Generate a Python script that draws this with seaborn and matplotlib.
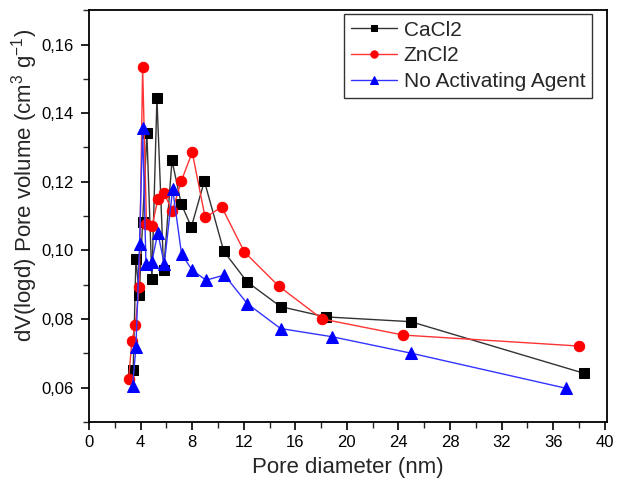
import numpy as np
import pandas as pd
import matplotlib
matplotlib.use('Agg')
import matplotlib.pyplot as plt
from matplotlib.ticker import FuncFormatter, MultipleLocator
import seaborn as sns

# --- data ---
cacl2_d = [3.42, 3.63, 3.89, 4.15, 4.48, 4.87, 5.26, 5.78, 6.43, 7.15, 7.93,
           8.94, 10.45, 12.26, 14.85, 18.35, 24.96, 38.36]
cacl2_v = [0.0652, 0.0976, 0.0870, 0.1083, 0.1341, 0.0915, 0.1443, 0.0942, 0.1262,
           0.1135, 0.1068, 0.1202, 0.0997, 0.0908, 0.0836, 0.0806, 0.0792, 0.0642]

zncl2_d = [3.06, 3.32, 3.58, 3.89, 4.15, 4.45, 4.90, 5.33, 5.83, 6.45, 7.15,
           8.00, 9.00, 10.29, 12.05, 14.70, 18.07, 24.37, 38.00]
zncl2_v = [0.0624, 0.0736, 0.0782, 0.0894, 0.1533, 0.1078, 0.1072, 0.1150, 0.1166,
           0.1114, 0.1202, 0.1286, 0.1096, 0.1126, 0.0995, 0.0896, 0.0800, 0.0753, 0.0721]

none_d = [3.37, 3.63, 3.91, 4.15, 4.41, 4.86, 5.33, 5.83, 6.48, 7.17, 8.00,
          9.07, 10.50, 12.26, 14.85, 18.87, 25.00, 36.99]
none_v = [0.0605, 0.0717, 0.1019, 0.1356, 0.0960, 0.0966, 0.1051, 0.0960, 0.1179,
          0.0989, 0.0942, 0.0913, 0.0928, 0.0845, 0.0772, 0.0748, 0.0700, 0.0598]

series = [
    ('CaCl2', cacl2_d, cacl2_v, '#000000', '#333333', 's', 7),
    ('ZnCl2', zncl2_d, zncl2_v, '#ff0000', '#ff3333', 'o', 7.5),
    ('No Activating Agent', none_d, none_v, '#0000ff', '#3333ff', '^', 8),
]

sns.set_style('ticks')
plt.rcParams['font.family'] = ['Liberation Sans', 'DejaVu Sans']
plt.rcParams['mathtext.fontset'] = 'custom'
plt.rcParams['mathtext.rm'] = 'Liberation Sans'
plt.rcParams['mathtext.default'] = 'regular'

fig = plt.figure(figsize=(6.19, 4.86), dpi=100)
ax = fig.add_axes([0.144, 0.132, 0.837, 0.847])

for name, d, v, mc, lc, mk, ms in series:
    df = pd.DataFrame({'d': d, 'v': v})
    sns.lineplot(data=df, x='d', y='v', sort=False, ax=ax, color=lc, lw=1.0,
                 marker=mk, markersize=ms, markerfacecolor=mc, markeredgecolor=mc,
                 label=name)

ax.set_xlim(0, 40.2)
ax.set_ylim(0.05, 0.17)
ax.xaxis.set_major_locator(MultipleLocator(4))
ax.xaxis.set_minor_locator(MultipleLocator(2))
ax.yaxis.set_major_locator(MultipleLocator(0.02))
ax.yaxis.set_minor_locator(MultipleLocator(0.01))
ax.yaxis.set_major_formatter(FuncFormatter(lambda y, p: f'{y:.2f}'.replace('.', ',')))
ax.tick_params(which='major', direction='out', length=6, width=1.2, labelsize=12, colors='black')
ax.tick_params(which='minor', direction='out', length=4, width=1.0)
ax.tick_params(axis='y', which='major', pad=5)
for s in ax.spines.values():
    s.set_visible(True)
    s.set_color('black')
    s.set_linewidth(1.3)

ax.set_xlabel('Pore diameter (nm)', fontsize=16, labelpad=5)
ax.set_ylabel('dV(logd) Pore volume (cm$^3$ g$^{-1}$)', fontsize=16)
ax.yaxis.set_label_coords(-0.095, 0.575)

# legend with smaller markers, square dark frame
handles, labels = ax.get_legend_handles_labels()
leg = ax.legend(handles, labels, loc='upper right', bbox_to_anchor=(0.97, 0.99),
                borderaxespad=0, fontsize=15, frameon=True, fancybox=False,
                edgecolor='#333333', framealpha=1, handlelength=2.2, markerscale=0.7,
                labelspacing=0.33, handletextpad=0.35, borderpad=0.3)
leg.get_frame().set_linewidth(1.0)

fig.savefig('out.png', dpi=100)
